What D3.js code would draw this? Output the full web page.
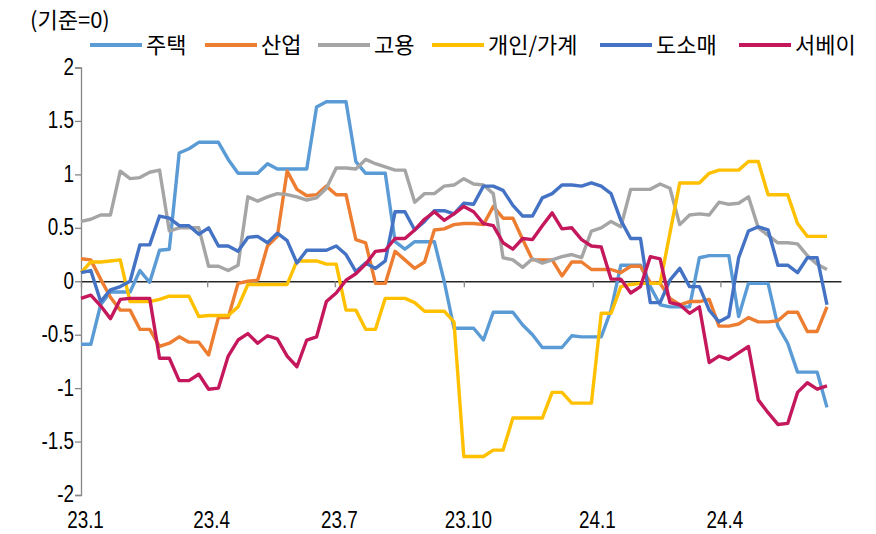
<!DOCTYPE html>
<html>
<head>
<meta charset="utf-8">
<script src="https://cdn.jsdelivr.net/npm/d3@7"></script>
<style>
  body { margin: 0; background: #fff; }
  text { font-family: "Noto Sans CJK KR", "Noto Sans", sans-serif; fill: #000; }
</style>
</head>
<body>
<div id="holder"></div>
<script>
const w = 876;
const h = 534;

// weekly observations, 2023-01-01 .. 2024-06-16
const dates = d3.timeWeek.range(new Date(2023, 0, 1), new Date(2024, 5, 17));

const seriesNames = ["주택", "산업", "고용", "개인/가계", "도소매", "서베이"];
const colors = ["#5B9BD5", "#ED7D31", "#A5A5A5", "#FFC000", "#4472C4", "#C5185C"];

const housing = [-0.59, -0.59, -0.22, -0.10, -0.10, -0.10, 0.10, -0.01, 0.29, 0.30,
  1.20, 1.24, 1.30, 1.30, 1.30, 1.14, 1.01, 1.01, 1.01, 1.10,
  1.05, 1.05, 1.05, 1.05, 1.63, 1.68, 1.68, 1.68, 1.12, 1.01,
  1.01, 1.01, 0.37, 0.30, 0.37, 0.37, 0.37, 0.00, -0.44, -0.44,
  -0.44, -0.55, -0.29, -0.29, -0.29, -0.41, -0.50, -0.62, -0.62, -0.62,
  -0.51, -0.52, -0.52, -0.52, -0.27, 0.15, 0.15, 0.15, -0.05, -0.22,
  -0.24, -0.24, -0.24, 0.22, 0.24, 0.24, 0.24, -0.33, -0.02, -0.02,
  -0.02, -0.42, -0.58, -0.85, -0.85, -0.85, -1.18];

const industry = [0.21, 0.20, 0.02, -0.15, -0.27, -0.27, -0.45, -0.45, -0.61, -0.58,
  -0.52, -0.57, -0.57, -0.69, -0.34, -0.34, -0.02, 0.00, 0.01, 0.33,
  0.42, 1.03, 0.86, 0.80, 0.81, 0.89, 0.81, 0.81, 0.39, 0.36,
  -0.02, -0.02, 0.28, 0.20, 0.12, 0.18, 0.48, 0.49, 0.53, 0.54,
  0.54, 0.53, 0.70, 0.59, 0.59, 0.39, 0.20, 0.20, 0.20, 0.05,
  0.18, 0.18, 0.11, 0.11, 0.11, 0.08, 0.14, 0.14, -0.01, -0.02,
  -0.16, -0.22, -0.19, -0.19, -0.17, -0.42, -0.42, -0.40, -0.34, -0.38,
  -0.38, -0.37, -0.29, -0.29, -0.47, -0.47, -0.24];

const employment = [0.56, 0.58, 0.62, 0.62, 1.03, 0.96, 0.97, 1.02, 1.04, 0.47,
  0.50, 0.50, 0.50, 0.14, 0.14, 0.10, 0.15, 0.79, 0.75, 0.79,
  0.82, 0.81, 0.79, 0.76, 0.78, 0.87, 1.06, 1.06, 1.05, 1.14,
  1.10, 1.07, 1.04, 1.04, 0.74, 0.82, 0.82, 0.89, 0.90, 0.96,
  0.91, 0.90, 0.82, 0.22, 0.20, 0.13, 0.21, 0.17, 0.20, 0.23,
  0.25, 0.22, 0.47, 0.50, 0.56, 0.51, 0.86, 0.86, 0.86, 0.91,
  0.87, 0.53, 0.62, 0.63, 0.62, 0.74, 0.72, 0.73, 0.79, 0.50,
  0.43, 0.36, 0.36, 0.35, 0.24, 0.16, 0.11];

const household = [0.08, 0.18, 0.18, 0.19, 0.20, -0.19, -0.19, -0.19, -0.17, -0.14,
  -0.14, -0.14, -0.33, -0.32, -0.32, -0.32, -0.24, -0.03, -0.03, -0.03,
  -0.03, -0.03, 0.19, 0.19, 0.19, 0.16, 0.16, -0.27, -0.27, -0.45,
  -0.45, -0.16, -0.16, -0.16, -0.20, -0.28, -0.28, -0.28, -0.38, -1.64,
  -1.64, -1.64, -1.58, -1.58, -1.28, -1.28, -1.28, -1.28, -1.04, -1.04,
  -1.14, -1.14, -1.14, -0.30, -0.30, -0.05, -0.03, -0.02, -0.02, -0.02,
  0.45, 0.92, 0.92, 0.92, 1.01, 1.04, 1.04, 1.04, 1.12, 1.12,
  0.81, 0.81, 0.81, 0.54, 0.42, 0.42, 0.42];

const retail = [0.08, 0.10, -0.19, -0.08, -0.05, 0.00, 0.34, 0.34, 0.61, 0.59,
  0.52, 0.52, 0.44, 0.50, 0.33, 0.33, 0.28, 0.41, 0.42, 0.36,
  0.45, 0.38, 0.17, 0.29, 0.29, 0.29, 0.33, 0.25, 0.09, 0.17,
  0.12, 0.19, 0.65, 0.65, 0.48, 0.56, 0.66, 0.66, 0.63, 0.73,
  0.72, 0.89, 0.89, 0.85, 0.71, 0.61, 0.61, 0.78, 0.82, 0.90,
  0.90, 0.89, 0.92, 0.89, 0.82, 0.57, 0.40, 0.40, -0.20, -0.20,
  0.01, 0.12, -0.05, -0.05, -0.27, -0.38, -0.33, 0.22, 0.47, 0.51,
  0.48, 0.15, 0.15, 0.08, 0.22, 0.22, -0.22];

const survey = [-0.16, -0.13, -0.23, -0.35, -0.17, -0.16, -0.16, -0.16, -0.72, -0.72,
  -0.93, -0.93, -0.87, -1.01, -1.00, -0.70, -0.55, -0.49, -0.58, -0.51,
  -0.54, -0.70, -0.80, -0.55, -0.52, -0.19, -0.11, 0.01, 0.07, 0.16,
  0.28, 0.29, 0.40, 0.40, 0.48, 0.58, 0.65, 0.57, 0.63, 0.70,
  0.65, 0.54, 0.52, 0.36, 0.30, 0.40, 0.39, 0.52, 0.64, 0.49,
  0.50, 0.39, 0.33, 0.32, 0.02, 0.02, -0.11, -0.05, 0.23, 0.21,
  -0.20, -0.22, -0.30, -0.24, -0.76, -0.70, -0.73, -0.67, -0.61, -1.11,
  -1.23, -1.34, -1.33, -1.04, -0.95, -1.01, -0.98];

const values = [housing, industry, employment, household, retail, survey];

const yTicks = [-2, -1.5, -1, -0.5, 0, 0.5, 1, 1.5, 2];
const xTicks = [new Date(2023, 0, 1), new Date(2023, 3, 1), new Date(2023, 6, 1),
  new Date(2023, 9, 1), new Date(2024, 0, 1), new Date(2024, 3, 1)];
const xTickLabels = ["23.1", "23.4", "23.7", "23.10", "24.1", "24.4"];

// tick labels in the original are a tall, narrow face
const narrow = 0.82;
const tickFont = "'Liberation Sans', Arial, sans-serif";

const svg = d3.select("#holder")
    .append("svg")
    .attr("width", w)
    .attr("height", h)

const x = d3.scaleTime()
    .domain([new Date(2023, 0, 1), new Date(2024, 5, 26)])
    .range([81, 841]);

const y = d3.scaleLinear()
    .domain([-2, 2])
    .range([495, 67.5]);

// unit note
svg.append("text")
    .attr("x", 30)
    .attr("y", 28)
    .style("font-size", "22px")
    .text("(기준=0)");

// y axis
const yAxis = svg.append("g")
    .attr("transform", "translate(81,0)")
    .call(d3.axisLeft(y).tickValues(yTicks).tickSize(6)
        .tickFormat(d => String(d)));
yAxis.select(".domain").attr("stroke", "#868686").attr("stroke-width", 1.3);
yAxis.selectAll(".tick line").attr("stroke", "#868686").attr("stroke-width", 1.3);
yAxis.selectAll(".tick text")
    .attr("x", -7 / narrow)
    .attr("dy", "0.3em")
    .attr("transform", "scale(" + narrow + ",1)")
    .style("font-family", tickFont)
    .style("font-size", "23px")
    .attr("fill", "#000");

// x axis at zero
const xAxis = svg.append("g")
    .attr("transform", "translate(0," + y(0) + ")")
    .call(d3.axisBottom(x).tickValues(xTicks).tickSize(6).tickSizeOuter(0)
        .tickFormat((d, i) => xTickLabels[i]));
xAxis.select(".domain").attr("stroke", "#262626").attr("stroke-width", 1.5);
xAxis.selectAll(".tick line").attr("stroke", "#868686").attr("stroke-width", 1.3);
xAxis.selectAll(".tick text")
    .attr("y", 230)
    .attr("x", 4 / narrow)
    .attr("transform", "scale(" + narrow + ",1)")
    .style("font-family", tickFont)
    .style("font-size", "23px")
    .attr("fill", "#000");

// lines
const line = d3.line()
    .x((d, i) => x(dates[i]))
    .y(d => y(d));

svg.append("g")
    .selectAll("path")
    .data(values)
    .enter()
    .append("path")
    .attr("d", line)
    .attr("fill", "none")
    .attr("stroke", (d, i) => colors[i])
    .attr("stroke-width", 3.4)
    .attr("stroke-linejoin", "round")

// legend
const legendX = [90, 205, 318, 432, 600, 739];
const legend = svg.append("g")
    .selectAll("g")
    .data(seriesNames)
    .enter()
    .append("g")
    .attr("transform", (d, i) => "translate(" + legendX[i] + ",45)");

legend.append("line")
    .attr("x1", 0).attr("x2", 52)
    .attr("stroke", (d, i) => colors[i])
    .attr("stroke-width", 4);

legend.append("text")
    .attr("x", 56)
    .attr("dy", "0.35em")
    .style("font-size", "22px")
    .text(d => d);
</script>
</body>
</html>
